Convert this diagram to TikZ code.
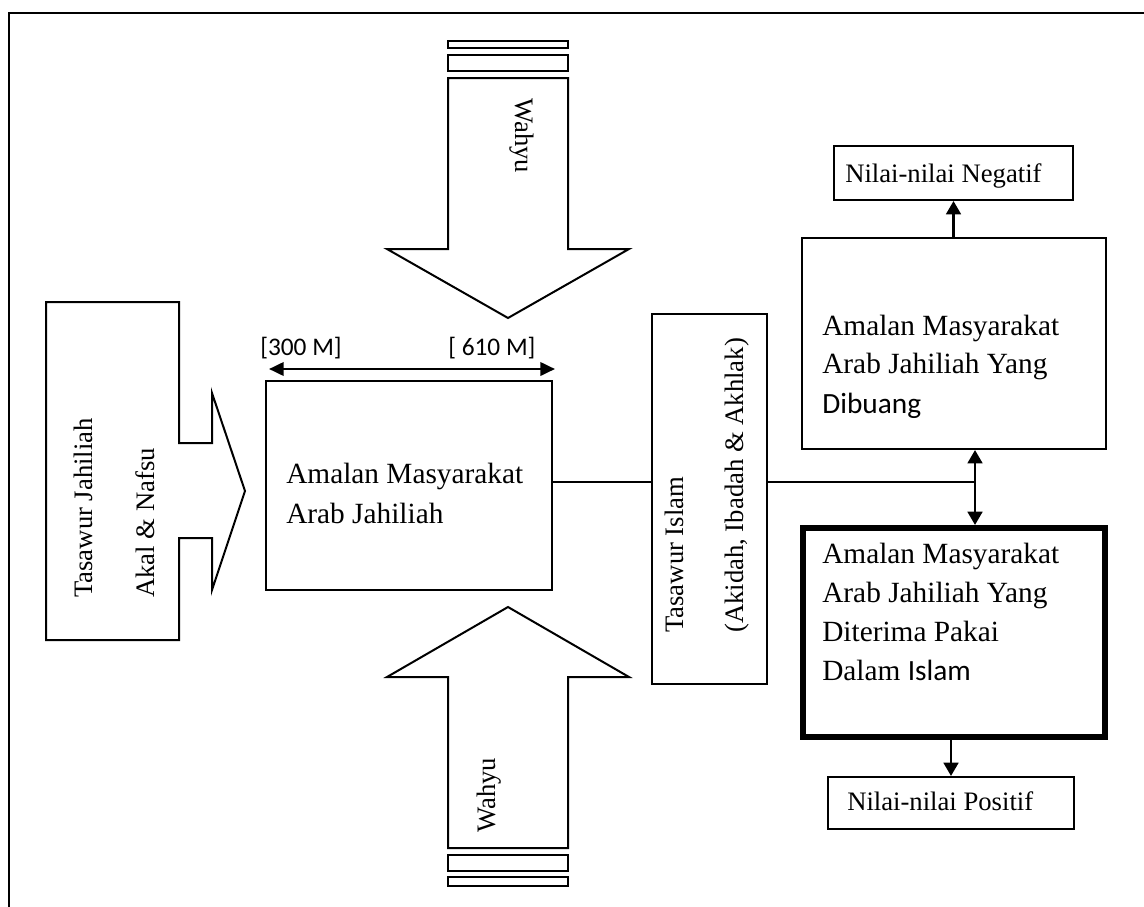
\documentclass[tikz,border=0pt]{standalone}
\usepackage{fontspec}
\setmainfont{Liberation Serif}
\newfontfamily\calfont{Carlito}
\usetikzlibrary{arrows.meta}
\begin{document}
\begin{tikzpicture}[x=0.75pt,y=-0.75pt,line join=miter,
  outline/.style={draw,line width=1.5pt,fill=white},
  box/.style={draw,line width=1.5pt,inner sep=0pt,anchor=north west,fill=white},
  ln/.style={line width=1.5pt},
  conn/.style={line width=2pt,-{Triangle[width=11pt,length=10pt]}},
  bt/.style={anchor=base west,inner sep=0pt,font=\fontsize{22}{26}\selectfont},
  lt/.style={anchor=base west,inner sep=0pt,font=\fontsize{20}{24}\selectfont},
  ct/.style={anchor=base west,inner sep=0pt,font=\calfont\fontsize{19}{23}\selectfont}]
\useasboundingbox (0,0) rectangle (1144,906);

% outer frame
\draw[line width=1.5pt] (9,910) -- (9,13) -- (1150,13);

% upper "Wahyu" arrow with its stripes
\draw[outline] (448,41) rectangle (568,48);
\draw[outline] (448,55) rectangle (568,71);
\draw[outline] (448,78) -- (568,78) -- (568,249) -- (629,249) -- (508,318)
  -- (387,249) -- (448,249) -- cycle;
\node[lt,rotate=-90] (wahyuA) at (515,98) {Wahyu};

% lower "Wahyu" arrow with its stripes
\draw[outline] (508,607) -- (629,677) -- (568,677) -- (568,848) -- (448,848)
  -- (448,677) -- (387,677) -- cycle;
\draw[outline] (448,855) rectangle (568,871);
\draw[outline] (448,877) rectangle (568,886);
\node[lt,rotate=90] (wahyuB) at (495,833) {Wahyu};

% left block arrow
\draw[outline] (46,302) -- (179,302) -- (179,443) -- (212,443) -- (212,393)
  -- (245,491) -- (212,590) -- (212,538) -- (179,538) -- (179,640)
  -- (46,640) -- cycle;
\node[lt,rotate=90] (tj1) at (92,598) {Tasawur Jahiliah};
\node[lt,rotate=90] (tj2) at (154,598) {Akal \& Nafsu};

% central box and time span
\node[box,minimum width=214.5pt,minimum height=156.75pt] (central) at (265,380) {};
\node[bt] (c1) at (286,483) {Amalan Masyarakat};
\node[bt] (c2) at (286,523) {Arab Jahiliah};
\coordinate (dl) at (269,369);
\coordinate (dr) at (555,369);
\draw[line width=2pt,{Triangle[width=10pt,length=11pt]}-{Triangle[width=10pt,length=11pt]}] (dl) -- (dr);
\node[ct] (y300) at (260,355) {[300 M]};
\node[ct] (y610) at (448,355) {[ 610 M]};

% Tasawur Islam box
\node[box,minimum width=86.25pt,minimum height=277.5pt] (ti) at (651,313) {};
\node[lt,rotate=90] (ti1) at (683,633) {Tasawur Islam};
\node[lt,rotate=90] (ti2) at (743,633) {(Akidah, Ibadah \& Akhlak)};

% right column
\node[box,minimum width=179.25pt,minimum height=40.5pt] (neg) at (833,145) {};
\node[lt] (negt) at (845,182) {Nilai-nilai Negatif};

\node[box,minimum width=228pt,minimum height=158.25pt] (dib) at (801,237) {};
\node[bt] (d1) at (822,335) {Amalan Masyarakat};
\node[bt] (d2) at (822,373) {Arab Jahiliah Yang};
\node[bt,font=\calfont\fontsize{22}{26}\selectfont] (d3) at (822,413) {Dibuang};

\node[box,line width=4.5pt,minimum width=226.5pt,minimum height=156.75pt] (acc) at (800,525) {};
\node[bt] (a1) at (822,563) {Amalan Masyarakat};
\node[bt] (a2) at (822,602) {Arab Jahiliah Yang};
\node[bt] (a3) at (822,641) {Diterima Pakai};
\node[bt] (a4) at (822,680) {Dalam {\calfont Islam}};

\node[box,minimum width=184.5pt,minimum height=39pt] (pos) at (827,776) {};
\node[lt] (post) at (847,810) {Nilai-nilai Positif};

% connectors
\coordinate (j) at (975,482);
\draw[ln] (central.east |- j) -- (ti.west |- j);
\draw[ln] (ti.east |- j) -- (j);
\draw[conn] (j) -- (j |- dib.south);
\draw[conn] (j) -- (j |- acc.north);
\draw[conn] (neg.south |- dib.north) -- (neg.south);
\draw[conn] (pos.north |- acc.south) -- (pos.north);
\end{tikzpicture}
\end{document}
